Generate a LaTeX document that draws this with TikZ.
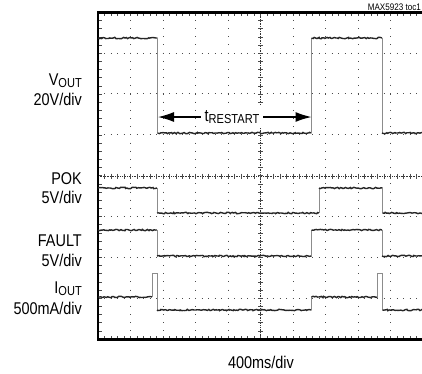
\documentclass[tikz,border=0pt]{standalone}
\usepackage{fontspec}
\setmainfont{Liberation Sans}[FakeStretch=0.85]
\usetikzlibrary{arrows.meta,decorations.pathmorphing}

\begin{document}
\begin{tikzpicture}
[x=1pt,y=-1pt,
frame/.style={line width=2.5pt,line cap=rect},
hdots/.style={black!70,line width=1pt,dash pattern=on 1pt off 5.5pt,dash phase=0.5pt},
vdots/.style={black!70,line width=1pt,dash pattern=on 1pt off 7.17pt,dash phase=0.5pt},
axis/.style={black!80,line width=0.8pt,dash pattern=on 0.8pt off 0.9pt},
tick/.style={black!70,line width=0.6pt},
trace/.style={line width=1.4pt,black!85,decorate,
  decoration={random steps,segment length=1.4pt,amplitude=0.7pt}},
edge/.style={line width=0.9pt,black!45},
lbl/.style={font=\fontsize{17}{19}\selectfont,inner sep=0pt,anchor=base east}]
\pgfmathsetseed{5923}
\useasboundingbox (0,0) rectangle (422,373);
% grid
\foreach \i in {1,2,3,4,6,7,8,9}
  \draw[vdots] (98+32.5*\i,12.3) -- (98+32.5*\i,339);
\foreach \j in {1,2,3,5,6,7}
  \draw[hdots] (98,12.3+40.84*\j) -- (423,12.3+40.84*\j);
% centre axes
\draw[axis] (260.5,12.3) -- (260.5,339);
\draw[axis] (98,176) -- (423,176);
\foreach \k in {1,...,39} {
  \draw[tick] (258,12.3+8.168*\k) -- (263,12.3+8.168*\k);
  \draw[tick] (98,12.3+8.168*\k) -- (101.5,12.3+8.168*\k);
}
\foreach \k in {1,...,49} {
  \draw[tick] (98+6.5*\k,173.5) -- (98+6.5*\k,178.5);
  \draw[tick] (98+6.5*\k,12.3) -- (98+6.5*\k,15.8);
  \draw[tick] (98+6.5*\k,339) -- (98+6.5*\k,335.5);
}
% frame
\draw[frame] (424,12.3) -- (98,12.3) -- (98,339.5) -- (424,339.5);
% VOUT
\draw[trace] (98,38) -- (157.5,38);
\draw[edge] (157.5,38) -- (157.5,133);
\draw[trace] (157.5,133) -- (311.5,133);
\draw[edge] (311.5,133) -- (311.5,38);
\draw[trace] (311.5,38) -- (382,38);
\draw[edge] (382,38) -- (382,133);
\draw[trace] (382,133) -- (423,133);
% POK
\draw[trace] (98,188) -- (157,188);
\draw[edge] (157,188) -- (157,213);
\draw[trace] (157,213) -- (319,213);
\draw[edge] (319,213) -- (319,188);
\draw[trace] (319,188) -- (382.5,188);
\draw[edge] (382.5,188) -- (382.5,213);
\draw[trace] (382.5,213) -- (423,213);
% FAULT
\draw[trace] (98,230) -- (157,230);
\draw[edge] (157,230) -- (157,256);
\draw[trace] (157,256) -- (311.5,256);
\draw[edge] (311.5,256) -- (311.5,230);
\draw[trace] (311.5,230) -- (382,230);
\draw[edge] (382,230) -- (382,256);
\draw[trace] (382,256) -- (423,256);
% IOUT
\draw[trace] (98,297) -- (152,297);
\draw[edge] (152,297) -- (152,273) -- (157,273) -- (157,310);
\draw[trace] (157,310) -- (311.5,310);
\draw[edge] (311.5,310) -- (311.5,297);
\draw[trace] (311.5,297) -- (377.5,297);
\draw[edge] (377.5,297) -- (377.5,273) -- (382.5,273) -- (382.5,310);
\draw[trace] (382.5,310) -- (423,310);
% restart time
\coordinate (rsleft) at (158,117);
\coordinate (rsright) at (311.5,117);
\node[font=\fontsize{17}{19}\selectfont,inner sep=4pt,fill=white] (trestart) at (232,117)
  {t{\fontsize{13}{13}\selectfont\raisebox{-2.5pt}{RESTART}}};
\draw[line width=1.3pt,-{Latex[length=16pt,width=10pt]}] (trestart.west) -- (rsleft);
\draw[line width=1.3pt,-{Latex[length=16pt,width=10pt]}] (trestart.east) -- (rsright);
% labels
\node[lbl] (vout) at (82,85) {V{\fontsize{13}{13}\selectfont\raisebox{-2pt}{OUT}}};
\node[lbl] (voutdiv) at (82,105) {20V/div};
\node[lbl] (pok) at (82,184) {POK};
\node[lbl] (pokdiv) at (82,203.5) {5V/div};
\node[lbl] (fault) at (82,246.5) {FAULT};
\node[lbl] (faultdiv) at (82,266) {5V/div};
\node[lbl] (iout) at (82,293) {I{\fontsize{13}{13}\selectfont\raisebox{-2pt}{OUT}}};
\node[lbl] (ioutdiv) at (82,314) {500mA/div};
\node[font=\fontsize{17}{19}\selectfont,inner sep=0pt,anchor=base] (timediv) at (261,368) {400ms/div};
\node[font=\fontsize{9.5}{10}\selectfont,inner sep=0pt,anchor=base east] (tocname) at (421,10.5) {MAX5923 toc1};
\end{tikzpicture}
\end{document}
